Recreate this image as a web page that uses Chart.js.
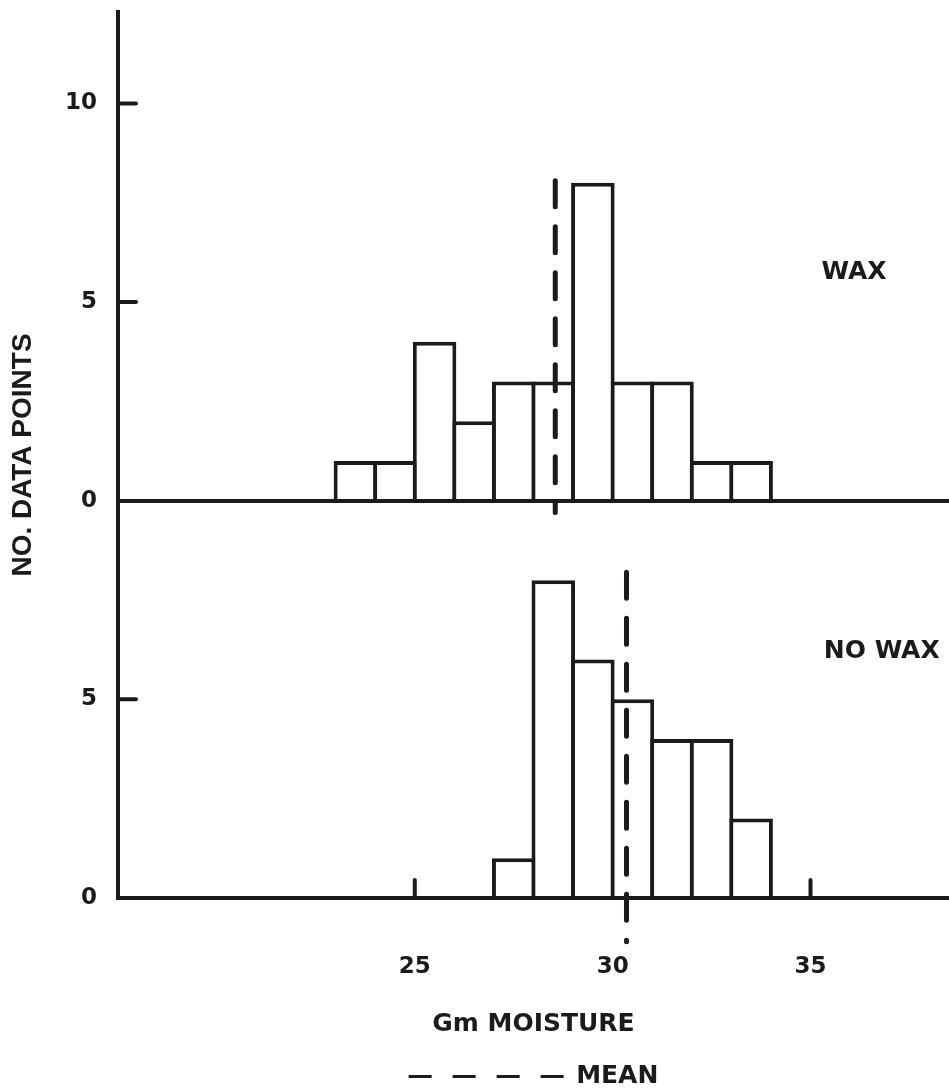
<!DOCTYPE html>
<html lang="en">
<head>
  <meta charset="UTF-8" />
  <title>Gm Moisture - Wax / No Wax</title>
  <script src="https://cdn.jsdelivr.net/npm/chart.js"></script>
  <style>
    html, body { margin: 0; padding: 0; background: #fff; }
    #wrap { width: 949px; height: 1092px; }
  </style>
</head>
<body>

<div id="wrap"><canvas id="moistureChart"></canvas></div>

<script>
  // histogram bins (lower edge, width 1 gm) and counts
  const waxBins = [23, 24, 25, 26, 27, 28, 29, 30, 31, 32, 33];
  const waxCounts = [1, 1, 4, 2, 3, 3, 8, 3, 3, 1, 1];
  const noWaxBins = [27, 28, 29, 30, 31, 32, 33];
  const noWaxCounts = [1, 8, 6, 5, 4, 4, 2];

  const waxMean = 28.55;
  const noWaxMean = 30.35;

  const xTickValues = [25, 30, 35];
  const xTickMarks = [25, 35];
  const waxYTicks = [0, 5, 10];
  const noWaxYTicks = [0, 5];

  // layout: the WAX panel sits on top of the NO WAX panel on one value axis
  const BIN_WIDTH = 1;
  const PANEL_OFFSET = 10;
  const WAX_TOP = 12.3;
  const waxMeanExtent = [8.05, -0.3];
  const noWaxMeanExtent = [8.2, -1.1];
  const INK = '#1b1b1b';

  const waxData = waxBins.map((b, i) => ({ x: b + BIN_WIDTH / 2, y: [PANEL_OFFSET, PANEL_OFFSET + waxCounts[i]] }));
  const noWaxData = noWaxBins.map((b, i) => ({ x: b + BIN_WIDTH / 2, y: noWaxCounts[i] }));
  const yTicks = noWaxYTicks.concat(waxYTicks.map(v => v + PANEL_OFFSET));
  const yTickMarks = yTicks.filter(v => v !== 0 && v !== PANEL_OFFSET);

  Chart.defaults.font.family = "'DejaVu Sans', sans-serif";
  Chart.defaults.font.weight = 'bold';
  Chart.defaults.color = INK;

  const innerTicks = {
    id: 'innerTicks',
    afterDraw(chart) {
      const { ctx, chartArea, scales: { x, y } } = chart;
      ctx.save();
      ctx.strokeStyle = INK;
      ctx.lineWidth = 4;
      ctx.lineCap = 'round';
      yTickMarks.forEach(v => {
        const py = y.getPixelForValue(v);
        ctx.beginPath();
        ctx.moveTo(chartArea.left, py);
        ctx.lineTo(chartArea.left + 18, py);
        ctx.stroke();
      });
      xTickMarks.forEach(v => {
        const px = x.getPixelForValue(v);
        ctx.beginPath();
        ctx.moveTo(px, chartArea.bottom);
        ctx.lineTo(px, chartArea.bottom - 18);
        ctx.stroke();
      });
      ctx.restore();
    }
  };

  const panelLabels = {
    id: 'panelLabels',
    afterDatasetsDraw(chart, args, opts) {
      const { ctx, scales: { x, y } } = chart;
      ctx.save();
      ctx.font = "bold 25px 'DejaVu Sans', sans-serif";
      ctx.fillStyle = INK;
      ctx.textAlign = 'center';
      ctx.textBaseline = 'middle';
      opts.at.forEach((p, i) => {
        const label = chart.data.datasets[i].label;
        ctx.fillText(label, x.getPixelForValue(p.x), y.getPixelForValue(p.y));
      });
      ctx.restore();
    }
  };

  // mean markers are drawn over the bars
  const meanLine = {
    type: 'line',
    order: -1,
    borderColor: INK,
    borderWidth: 5,
    borderDash: [26, 20],
    borderCapStyle: 'round',
    pointRadius: 0,
    clip: false
  };

  new Chart(document.getElementById('moistureChart'), {
    type: 'bar',
    data: {
      datasets: [
        {
          label: 'WAX',
          data: waxData,
          backgroundColor: '#fff',
          borderColor: INK,
          borderWidth: 4,
          grouped: false,
          barPercentage: 1.1,
          categoryPercentage: 1
        },
        {
          label: 'NO WAX',
          data: noWaxData,
          backgroundColor: '#fff',
          borderColor: INK,
          borderWidth: 4,
          grouped: false,
          barPercentage: 1.1,
          categoryPercentage: 1
        },
        Object.assign({
          label: 'MEAN',
          data: [
            { x: waxMean, y: PANEL_OFFSET + waxMeanExtent[0] },
            { x: waxMean, y: PANEL_OFFSET + waxMeanExtent[1] }
          ]
        }, meanLine),
        Object.assign({
          label: 'MEAN',
          data: [
            { x: noWaxMean, y: noWaxMeanExtent[0] },
            { x: noWaxMean, y: noWaxMeanExtent[1] }
          ]
        }, meanLine)
      ]
    },
    options: {
      responsive: true,
      maintainAspectRatio: false,
      animation: false,
      layout: { padding: { top: 12, right: 0, bottom: -7, left: 0 } },
      plugins: {
        tooltip: { enabled: false },
        legend: {
          position: 'bottom',
          fullSize: false,
          labels: {
            color: INK,
            font: { size: 25, weight: 'bold' },
            usePointStyle: true,
            pointStyle: 'line',
            pointStyleWidth: 155,
            padding: 10,
            filter: item => item.datasetIndex === 2,
            generateLabels(chart) {
              return Chart.defaults.plugins.legend.labels.generateLabels(chart).map(item => {
                item.lineDash = [23, 21];
                item.lineWidth = 3;
                item.lineCap = 'butt';
                item.pointStyle = 'line';
                return item;
              });
            }
          }
        },
        panelLabels: {
          at: [{ x: 36.1, y: PANEL_OFFSET + 5.75 }, { x: 36.8, y: 6.2 }]
        }
      },
      scales: {
        x: {
          type: 'linear',
          min: 17.5,
          max: 38.5,
          offset: false,
          afterBuildTicks: scale => { scale.ticks = xTickValues.map(v => ({ value: v })); },
          afterFit: scale => { scale.height = 1092 + 7 - 45 - 898; },
          grid: { display: false, drawTicks: false },
          border: { display: true, color: INK, width: 4, z: 1 },
          ticks: { padding: 55, font: { size: 23 }, color: INK },
          title: {
            display: true,
            text: 'Gm MOISTURE',
            font: { size: 25, weight: 'bold' },
            color: INK,
            padding: { top: 0, bottom: 15 }
          }
        },
        y: {
          min: 0,
          max: PANEL_OFFSET + WAX_TOP,
          afterBuildTicks: scale => { scale.ticks = yTicks.map(v => ({ value: v })); },
          afterFit: scale => {
            scale.width = 118;
            scale.paddingTop = 0;
            scale.paddingBottom = 0;
          },
          grid: {
            drawTicks: false,
            z: 1,
            lineWidth: 4,
            color: c => c.tick && c.tick.value === PANEL_OFFSET ? INK : 'rgba(0,0,0,0)'
          },
          border: { display: true, color: INK, width: 4, z: 1 },
          ticks: {
            padding: 21,
            font: { size: 23 },
            color: INK,
            callback: v => v >= PANEL_OFFSET ? v - PANEL_OFFSET : v
          },
          title: {
            display: true,
            text: 'NO. DATA POINTS',
            font: { family: "'Liberation Sans', Arial, sans-serif", size: 28, weight: 'bold' },
            color: INK,
            padding: { top: 6, bottom: 0 }
          }
        }
      }
    },
    plugins: [innerTicks, panelLabels]
  });
</script>

</body>
</html>
